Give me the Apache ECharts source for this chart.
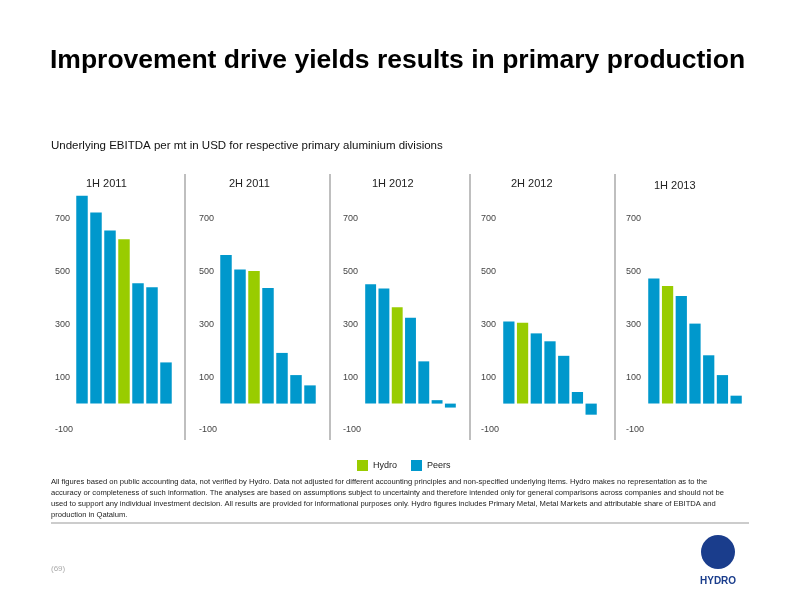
<!DOCTYPE html><html><head><meta charset="utf-8"><script src="https://cdn.jsdelivr.net/npm/echarts@6/dist/echarts.min.js"></script>
<style>html,body{margin:0;background:#fff}#c{width:800px;height:600px}</style></head><body><div id="c"></div><script>
const periods=['1H 2011','2H 2011','1H 2012','2H 2012','1H 2013'];
const values=[[787,724,656,623,456,441,156],[563,508,502,438,192,108,69],[452,436,365,325,160,13,-15],[311,306,266,236,181,44,-42],[474,445,408,303,183,108,30]];
const hydroIndex=[3,2,2,1,1];
const yTicks=[-100,100,300,500,700];
const chart=echarts.init(document.getElementById('c'));
const panelLeft=[75,219,364,502,647], panelW=[98,98,93,96,96];
const grids=[],xs=[],ys=[],series=[],graphics=[];
const blue='#0098CC',green='#99CC00';
periods.forEach((p,i)=>{
 grids.push({left:panelLeft[i],width:panelW[i],top:166,height:264});
 xs.push({gridIndex:i,type:'category',data:values[i].map((v,j)=>j),show:false});
 ys.push({gridIndex:i,min:-100,max:900,interval:200,splitLine:{show:false},axisLine:{show:false},axisTick:{show:false},
   axisLabel:{margin:panelLeft[i]-[55,199,343,481,626][i],align:'left',color:'#444',fontSize:9,fontFamily:'Liberation Sans',formatter:v=>(yTicks.includes(v)?v:'')}});
 series.push({name:'Peers',type:'bar',xAxisIndex:i,yAxisIndex:i,barCategoryGap:'18%',barGap:'-100%',itemStyle:{color:blue},data:values[i].map((v,j)=>j===hydroIndex[i]?null:v)});
 series.push({name:'Hydro',type:'bar',xAxisIndex:i,yAxisIndex:i,barCategoryGap:'18%',barGap:'-100%',itemStyle:{color:green},data:values[i].map((v,j)=>j===hydroIndex[i]?v:null)});
 graphics.push({type:'text',left:[98,241,384,523,666][i]-12,top:[178,178,178,178,180][i],style:{text:p,fontSize:11,fill:'#222',fontFamily:'Liberation Sans'}});
});
[185,330,470,615].forEach(x=>graphics.push({type:'line',shape:{x1:x,y1:174,x2:x,y2:440},style:{stroke:'#aaa',lineWidth:1.5}}));
graphics.push({type:'text',left:50,top:47,style:{text:'Improvement drive yields results in primary production',fontSize:26.5,fontWeight:'bold',fill:'#000',fontFamily:'Liberation Sans'}});
graphics.push({type:'text',left:51,top:140,style:{text:'Underlying EBITDA per mt in USD for respective primary aluminium divisions',fontSize:11.5,fill:'#111',fontFamily:'Liberation Sans'}});
graphics.push({type:'text',left:51,top:476,style:{text:'All figures based on public accounting data, not verified by Hydro. Data not adjusted for different accounting principles and non-specified underlying items. Hydro makes no representation as to the\naccuracy or completeness of such information. The analyses are based on assumptions subject to uncertainty and therefore intended only for general comparisons across companies and should not be\nused to support any individual investment decision. All results are provided for informational purposes only. Hydro figures includes Primary Metal, Metal Markets and attributable share of EBITDA and\nproduction in Qatalum.',fontSize:7.6,lineHeight:11,fill:'#222',fontFamily:'Liberation Sans'}});
graphics.push({type:'line',shape:{x1:51,y1:523,x2:749,y2:523},style:{stroke:'#999',lineWidth:1}});
graphics.push({type:'text',left:51,top:565,style:{text:'(69)',fontSize:8,fill:'#aaa',fontFamily:'Liberation Sans'}});
graphics.push({type:'circle',shape:{cx:718,cy:552,r:17},style:{fill:'#1a3d8c'}});
graphics.push({type:'text',left:700,top:576,style:{text:'HYDRO',fontSize:10,fontWeight:'bold',fill:'#1a3d8c',fontFamily:'Liberation Sans'}});
chart.setOption({animation:false,grid:grids,xAxis:xs,yAxis:ys,series:series,graphic:graphics,
 legend:{data:['Hydro','Peers'],top:455,left:352,icon:'rect',itemWidth:11,itemHeight:11,itemGap:14,textStyle:{fontSize:9,color:'#222',fontFamily:'Liberation Sans'}}});
</script></body></html>
